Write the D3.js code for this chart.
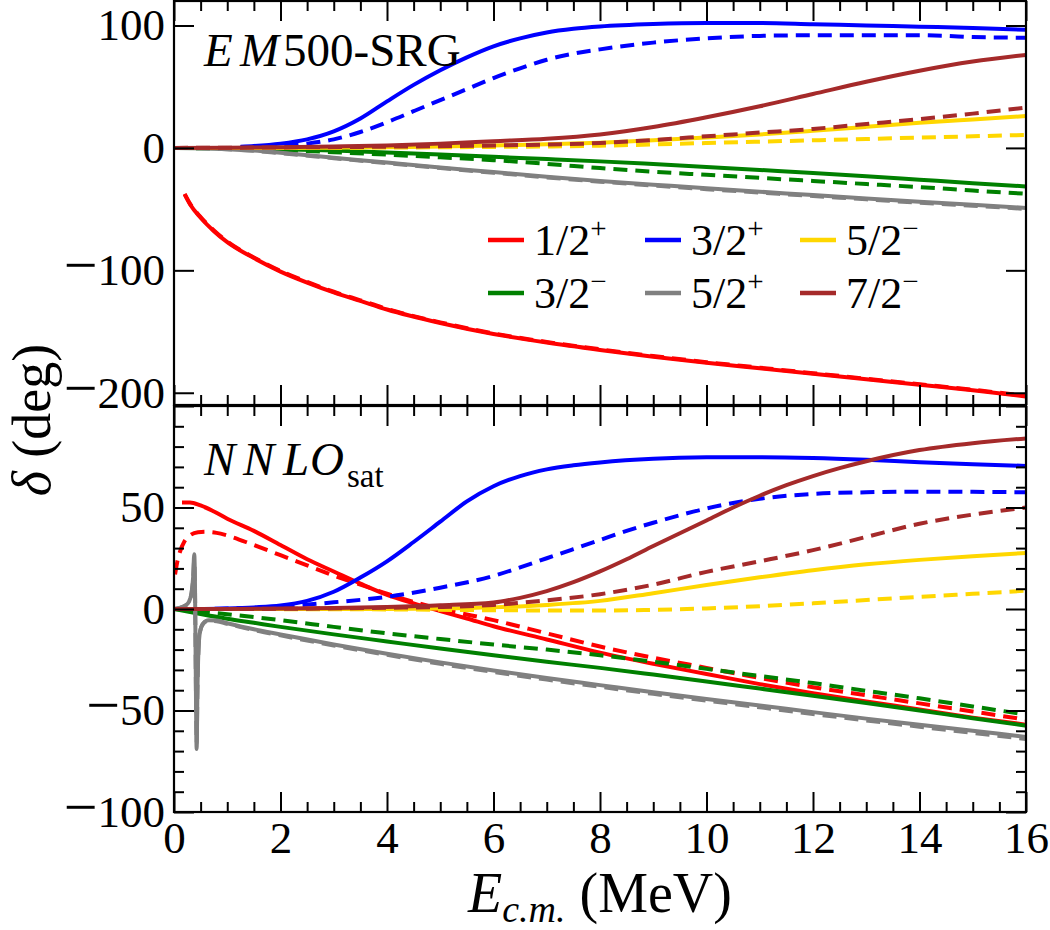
<!DOCTYPE html>
<html>
<head>
<meta charset="utf-8">
<script src="https://cdn.jsdelivr.net/npm/d3@7"></script>
<style>
  body { margin: 0; background: #fff; }
</style>
</head>
<body>
<div id="chart"></div>
<script>
// channels, legend order (matplotlib fills legend column by column)
const channels = ["1/2+", "3/2−", "3/2+", "5/2+", "5/2−", "7/2−"];
const colors = ["#ff0000", "#008000", "#0000ff", "#808080", "#ffd700", "#a52a2a"];

// ---- EM500-SRG panel, [E (MeV), delta (deg)] ----
const emRed = [[0.2,-38],[0.3,-46],[0.5,-57],[0.75,-68],[1,-77],[1.5,-90],[2,-101],[2.5,-110],[3,-118],[3.5,-125],[4,-132],[5,-143],[6,-152],[7,-159],[8,-165],[9,-170.5],[10,-175.5],[11,-180],[12,-184.5],[13,-189],[14,-193.5],[15,-198],[16,-203]];
const emRedDash = [[0.2,-37.5],[0.3,-45.5],[0.5,-56.5],[0.75,-67.5],[1,-76.5],[1.5,-89.5],[2,-100.5],[2.5,-109.5],[3,-117.5],[3.5,-124.5],[4,-131.5],[5,-142.5],[6,-151.5],[7,-158.5],[8,-164.5],[9,-170],[10,-175],[11,-179.5],[12,-184],[13,-188.5],[14,-193],[15,-197.5],[16,-202.5]];
const emGreen = [[0,0],[1,-0.3],[2,-1],[3,-2.2],[4,-3.7],[5,-5.4],[6,-7.3],[7,-9.1],[8,-11],[9,-13.2],[10,-15.5],[11,-18],[12,-20.5],[13,-23.2],[14,-26],[15,-28.8],[16,-31.5]];
const emGreenDash = [[0,0],[1,-0.6],[2,-1.8],[3,-3.5],[4,-5.5],[5,-7.7],[6,-10],[7,-13],[8,-16.5],[9,-19.5],[10,-22],[11,-24.5],[12,-27],[13,-29.5],[14,-32],[15,-34.8],[16,-37.5]];
const emBlue = [[1.25,1],[1.5,1.6],[2,3.5],[2.5,7],[3,13.5],[3.5,24],[4,38],[4.5,51.5],[5,63.5],[5.5,74],[6,83],[6.5,89.5],[7,94.3],[7.5,97.3],[8,99.2],[9,101.2],[10,102],[11,102],[12,101],[13,100],[14,99],[15,98],[16,96.5]];
const emBlueDash = [[1.25,0.5],[2,1.5],[2.5,3.5],[3,7],[3.5,13],[4,21],[4.5,30],[5,39],[5.5,48],[6,57],[6.5,65],[7,72],[7.5,77],[8,80.5],[9,86],[10,89.5],[11,91.5],[12,92],[13,92],[14,92],[14.5,91.5],[15,90.5],[16,90]];
const emGray = [[0,0],[0.5,-0.3],[1,-1],[1.5,-2.2],[2,-4],[3,-8],[4,-12],[5,-16],[6,-19.7],[7,-23.5],[8,-27],[9,-30],[10,-33],[11,-35.8],[12,-38.5],[13,-41.3],[14,-44],[15,-46.5],[16,-49]];
const emGrayDash = [[0,0],[0.5,-0.3],[1,-1.1],[1.5,-2.4],[2,-4.3],[3,-8.4],[4,-12.5],[5,-16.5],[6,-20.3],[7,-24.1],[8,-27.6],[9,-30.7],[10,-33.7],[11,-36.5],[12,-39.3],[13,-42],[14,-44.8],[15,-47.3],[16,-49.8]];
const emGold = [[0,0],[2,0],[3,0.2],[4,0.5],[5,1.2],[6,2],[7,3],[8,4.3],[9,6.2],[10,8.5],[11,11],[12,14],[13,17.2],[14,20.5],[15,23.3],[16,26]];
const emGoldDash = [[0,0],[2,0],[4,0.3],[6,0.8],[8,1.8],[9,2.8],[10,4],[11,5.1],[12,6.2],[13,7.3],[14,8.4],[15,9.5],[16,10.6]];
const emBrown = [[0,0],[1,0.2],[2,0.6],[3,1.2],[4,2],[5,3.5],[6,5.5],[7,7.5],[8,11],[9,17],[10,25],[11,34],[12,44],[13,54],[14,63],[15,70.5],[16,76]];
const emBrownDash = [[0,0],[2,0.4],[4,1],[6,2],[8,4],[9,6.5],[10,9.5],[11,12.5],[12,15.5],[13,19.5],[14,23.5],[15,28],[16,33]];

// ---- NNLOsat panel ----
const nnRed = [[0.15,52.5],[0.3,52.5],[0.5,51],[0.75,48],[1,44.5],[1.5,38.5],[2,31.5],[2.5,24.5],[3,18.5],[3.5,12.5],[4,7],[4.5,2.8],[5,-1],[5.5,-4.7],[6,-8.5],[7,-15],[8,-21.5],[9,-27],[10,-32],[11,-37],[12,-41.5],[13,-45.5],[14,-49.5],[15,-53.5],[16,-57]];
const nnRedDash = [[0.02,17],[0.06,23],[0.11,28],[0.2,33.5],[0.3,36.3],[0.45,37.8],[0.6,38],[0.8,37.5],[1,36.2],[1.5,31.5],[2,26.5],[2.5,21.5],[3,16.5],[3.5,12],[4,7.5],[4.5,3.5],[5,0],[5.5,-2.7],[6,-5.5],[7,-12],[8,-18.5],[9,-24],[10,-29],[11,-34],[12,-38.5],[13,-42.5],[14,-46.5],[15,-50.5],[16,-54.5]];
const nnGreen = [[0,0],[0.5,-2.5],[1,-4.8],[1.5,-6.8],[2,-8.8],[3,-12.5],[4,-16],[5,-19.5],[6,-22.8],[7,-26],[8,-29],[9,-32.3],[10,-35.7],[11,-39.2],[12,-42.7],[13,-46.3],[14,-50],[15,-53.8],[16,-57.5]];
const nnGreenDash = [[0,0],[1,-2.6],[2,-5.5],[3,-8.8],[4,-12],[5,-14.8],[6,-17.5],[7,-20],[8,-22.8],[9,-26],[10,-29.5],[11,-33],[12,-36.5],[13,-40.3],[14,-44],[15,-48],[16,-52]];
const nnBlue = [[0.35,0],[1,0.3],[1.5,0.8],[2,1.7],[2.5,4],[3,8.5],[3.5,15.5],[4,23.5],[4.5,33],[5,43],[5.5,53],[6,60.5],[6.5,65.5],[7,68.8],[7.5,70.8],[8,72.2],[9,74],[10,74.7],[11,74.8],[12,74.4],[13,73.5],[14,72.3],[15,71.3],[16,70.5]];
const nnBlueDash = [[0.35,0],[1,0.2],[2,1.2],[3,3.3],[4,6],[5,10.5],[6,16.3],[6.5,20.5],[7,25],[7.5,29.5],[8,34],[8.5,38.5],[9,42.5],[9.5,46.2],[10,49.5],[10.5,52.2],[11,54.3],[12,56.7],[13,57.5],[14,57.8],[15,57.7],[16,57.5]];
const nnGray = [[0,0],[0.1,0.5],[0.2,1.5],[0.28,3.5],[0.33,8],[0.36,16],[0.38,27],[0.395,10],[0.405,-20],[0.415,-50],[0.425,-69],[0.44,-40],[0.46,-20],[0.49,-11],[0.55,-7],[0.65,-5.5],[0.8,-5.7],[1,-7],[1.5,-10],[2,-12.5],[3,-17.5],[4,-22],[5,-26.3],[6,-30.3],[7,-34],[8,-37.5],[9,-41],[10,-44.3],[11,-47.5],[12,-50.8],[13,-54],[14,-57],[15,-60],[16,-63]];
const nnGrayDash = [[0,0],[0.1,0.5],[0.2,1.5],[0.28,3.5],[0.33,8],[0.36,15],[0.38,24],[0.395,8],[0.405,-20],[0.415,-48],[0.425,-66],[0.44,-40],[0.46,-20],[0.49,-11],[0.55,-7.2],[0.65,-5.8],[0.8,-6],[1,-7.3],[1.5,-10.4],[2,-13],[3,-18],[4,-22.6],[5,-27],[6,-31],[7,-34.8],[8,-38.3],[9,-41.8],[10,-45.1],[11,-48.4],[12,-51.7],[13,-54.9],[14,-58],[15,-61],[16,-64]];
const nnGold = [[0,0],[4,0],[5,0.2],[6,0.8],[7,2],[8,4],[9,7.8],[10,11.8],[11,15.6],[12,19.1],[13,22],[14,24.2],[15,26],[16,27.6]];
const nnGoldDash = [[0,0],[4,-0.2],[6,-0.6],[8,-0.8],[9,-0.4],[10,0.3],[11,1.4],[12,2.8],[13,4.4],[14,6],[15,7.5],[16,9]];
const nnBrown = [[0,0],[1,0],[2,0.2],[3,0.5],[4,1],[5,1.8],[6,3.2],[6.5,5.5],[7,8.8],[7.5,13.2],[8,18.5],[8.5,24.5],[9,31],[9.5,37.3],[10,43.6],[10.5,50],[11,55.8],[11.5,61],[12,65.5],[12.5,69.4],[13,72.8],[14,78.3],[15,81.7],[16,84]];
const nnBrownDash = [[0,0],[2,0.1],[4,0.6],[5,1],[6,2],[7,4.3],[8,7.3],[9,12],[10,18.3],[11,23.5],[12,29],[13,35.5],[14,42],[15,46.5],[16,50]];

// axis ticks
const xMajor = [0, 2, 4, 6, 8, 10, 12, 14, 16];
const emYMajor = [-200, -100, 0, 100];
const nnYMajor = [-100, -50, 0, 50, 100];
const nnYLabeled = [-100, -50, 0, 50];

const FONT = "'Liberation Serif', 'DejaVu Serif', 'Times New Roman', serif";
const width = 1050, height = 930;
const plotLeft = 174, plotRight = 1026;

const svg = d3.select("#chart").append("svg")
  .attr("width", width)
  .attr("height", height)
  .attr("viewBox", `0 0 ${width} ${height}`)
  .style("font-family", FONT);
svg.append("rect").attr("width", width).attr("height", height).attr("fill", "#fff");

const x = d3.scaleLinear().domain([0, 16]).range([plotLeft, plotRight]);
const xMinor = d3.range(0, 16.001, 0.5).filter(v => v % 2 !== 0);

// negative labels: a larger minus glyph, like the wide math minus of the original
function signedLabel(sel) {
  sel.each(function (d) {
    const t = d3.select(this);
    t.text("");
    if (d < 0) t.append("tspan").style("font-size", "60px").text("\u2212");
    t.append("tspan").text(Math.abs(d));
  });
}

const panels = [
  {
    id: "em", top: 1, bottom: 405, domain: [-210, 120],
    major: emYMajor, labeled: emYMajor, minorStep: 20,
    series: [[emRed, emRedDash], [emGreen, emGreenDash], [emBlue, emBlueDash],
             [emGray, emGrayDash], [emGold, emGoldDash], [emBrown, emBrownDash]]
  },
  {
    id: "nn", top: 406, bottom: 812, domain: [-100, 100],
    major: nnYMajor, labeled: nnYLabeled, minorStep: 10,
    series: [[nnRed, nnRedDash], [nnGreen, nnGreenDash], [nnBlue, nnBlueDash],
             [nnGray, nnGrayDash], [nnGold, nnGoldDash], [nnBrown, nnBrownDash]]
  }
];

panels.forEach((p, pi) => {
  const y = d3.scaleLinear().domain(p.domain).range([p.bottom, p.top]);
  const g = svg.append("g");

  g.append("clipPath").attr("id", `clip-${p.id}`)
    .append("rect")
    .attr("x", plotLeft).attr("y", p.top)
    .attr("width", plotRight - plotLeft).attr("height", p.bottom - p.top);

  const line = d3.line()
    .x(d => x(d[0]))
    .y(d => y(d[1]))
    .curve(d3.curveMonotoneX);

  const lines = g.append("g").attr("clip-path", `url(#clip-${p.id})`);
  p.series.forEach(([solid, dashed], i) => {
    lines.append("path")
      .attr("d", line(solid))
      .attr("fill", "none")
      .attr("stroke", colors[i])
      .attr("stroke-width", 4);
    lines.append("path")
      .attr("d", line(dashed))
      .attr("fill", "none")
      .attr("stroke", colors[i])
      .attr("stroke-width", 4)
      .attr("stroke-dasharray", "14,8");
  });

  const yMinor = d3.range(p.domain[0], p.domain[1] + 0.001, p.minorStep)
    .filter(v => !p.major.includes(v) && v % p.minorStep === 0);

  // y axes, ticks pointing inward
  const left = g.append("g").attr("transform", `translate(${plotLeft},0)`)
    .call(d3.axisLeft(y).tickValues(p.labeled).tickSize(-20).tickPadding(9));
  const leftExtra = g.append("g").attr("transform", `translate(${plotLeft},0)`)
    .call(d3.axisLeft(y).tickValues(p.major.filter(v => !p.labeled.includes(v))).tickSize(-20).tickFormat(""));
  const leftMinor = g.append("g").attr("transform", `translate(${plotLeft},0)`)
    .call(d3.axisLeft(y).tickValues(yMinor).tickSize(-10).tickFormat(""));
  const right = g.append("g").attr("transform", `translate(${plotRight},0)`)
    .call(d3.axisRight(y).tickValues(p.major).tickSize(-20).tickFormat(""));
  const rightMinor = g.append("g").attr("transform", `translate(${plotRight},0)`)
    .call(d3.axisRight(y).tickValues(yMinor).tickSize(-10).tickFormat(""));

  // x axes on top and bottom of each panel
  const top = g.append("g").attr("transform", `translate(0,${p.top})`)
    .call(d3.axisTop(x).tickValues(xMajor).tickSize(-20).tickFormat(""));
  const topMinor = g.append("g").attr("transform", `translate(0,${p.top})`)
    .call(d3.axisTop(x).tickValues(xMinor).tickSize(-10).tickFormat(""));
  const bottom = g.append("g").attr("transform", `translate(0,${p.bottom})`)
    .call(d3.axisBottom(x).tickValues(xMajor).tickSize(-20).tickPadding(9)
      .tickFormat(pi === 1 ? d => String(d) : ""));
  const bottomMinor = g.append("g").attr("transform", `translate(0,${p.bottom})`)
    .call(d3.axisBottom(x).tickValues(xMinor).tickSize(-10).tickFormat(""));

  left.selectAll(".tick text").call(signedLabel);

  [left, leftExtra, leftMinor, right, rightMinor, top, topMinor, bottom, bottomMinor].forEach(a => {
    a.attr("font-family", null).attr("font-size", null);
    a.select(".domain").remove();
    a.selectAll(".tick line").attr("stroke", "#000").attr("stroke-width", 2);
    a.selectAll(".tick text")
      .style("font-family", FONT)
      .style("font-size", "45px")
      .attr("fill", "#000");
  });

  g.append("rect")
    .attr("x", plotLeft).attr("y", p.top)
    .attr("width", plotRight - plotLeft).attr("height", p.bottom - p.top)
    .attr("fill", "none").attr("stroke", "#000").attr("stroke-width", 2.2);
});

// panel labels
const em = svg.append("text").attr("y", 66).style("font-family", FONT).style("font-size", "47px");
em.append("tspan").attr("x", 204).attr("font-style", "italic").text("E");
em.append("tspan").attr("x", 240).attr("font-style", "italic").text("M");
em.append("tspan").attr("x", 283).text("500-SRG");

const nn = svg.append("text").attr("y", 475).style("font-family", FONT).style("font-size", "47px");
[["N", 204], ["N", 243], ["L", 283], ["O", 310]].forEach(([c, px]) => {
  nn.append("tspan").attr("x", px).attr("font-style", "italic").text(c);
});
nn.append("tspan").attr("x", 347).attr("dy", 12).style("font-size", "33px").text("sat");

// legend
const legendCols = [488, 645, 800];
const legendRows = [240, 293];
channels.forEach((c, i) => {
  const cx = legendCols[Math.floor(i / 2)];
  const cy = legendRows[i % 2];
  svg.append("line")
    .attr("x1", cx).attr("x2", cx + 36)
    .attr("y1", cy).attr("y2", cy)
    .attr("stroke", colors[i]).attr("stroke-width", 4.5);
  const t = svg.append("text").attr("x", cx + 46).attr("y", cy + 15)
    .style("font-family", FONT).style("font-size", "44px");
  t.append("tspan").text(c.slice(0, 3));
  t.append("tspan").attr("dy", -17).style("font-size", "29px").text(c.slice(3));
});

// axis titles
const xt = svg.append("text")
  .attr("x", 600).attr("y", 912)
  .attr("text-anchor", "middle")
  .style("font-family", FONT).style("font-size", "56px");
xt.append("tspan").attr("font-style", "italic").text("E");
xt.append("tspan").attr("font-style", "italic").style("font-size", "38px").attr("dy", 10).text("c.m.");
xt.append("tspan").attr("dy", -10).text(" (MeV)");

const yt = svg.append("text")
  .attr("transform", "translate(50,420) rotate(-90)")
  .attr("text-anchor", "middle")
  .style("font-family", FONT).style("font-size", "54px");
yt.append("tspan").attr("font-style", "italic").text("δ");
yt.append("tspan").text(" (deg)");
</script>
</body>
</html>
